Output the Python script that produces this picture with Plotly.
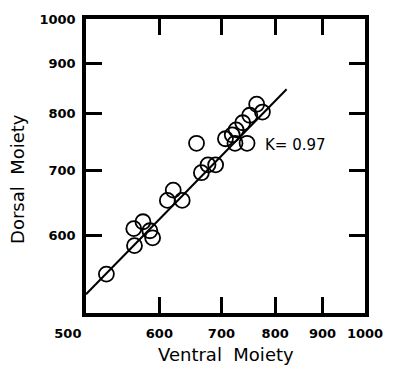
import numpy as np
import plotly.graph_objects as go

# Paired measurements (ventral vs dorsal moiety)
ventral = [526, 564, 563, 576, 586, 590, 612, 621, 635, 666, 677, 690, 658,
           707, 724, 726, 738, 746, 751, 764, 775, 719]
dorsal = [548, 586, 610, 620, 607, 597, 652, 668, 652, 696, 709, 709, 746,
          754, 746, 770, 783, 746, 797, 818, 803, 761]

# Fitted allometric line: dorsal = b * ventral ** K
K = 0.97
log_b = 0.1002
line_x = [500, 823]

tick_vals_x = [500, 600, 700, 800, 900, 1000]
tick_text_x = ["500" + "\u00a0" * 8, "600", "700", "800", "900", "1000"]
tick_vals_y = [600, 700, 800, 900, 1000]
tick_text_y = ["600", "700", "800", "900", "1000"]

line_y = [10 ** (log_b + K * np.log10(v)) for v in line_x]

fig = go.Figure()
fig.add_trace(go.Scatter(
    x=line_x, y=line_y, mode="lines",
    line=dict(color="black", width=2), hoverinfo="skip", showlegend=False))
fig.add_trace(go.Scatter(
    x=ventral, y=dorsal, mode="markers",
    marker=dict(symbol="circle-open", size=15, color="black",
                line=dict(color="black", width=1.8)),
    showlegend=False))

axis_common = dict(
    type="log", showgrid=False, zeroline=False,
    showline=True, linecolor="black", linewidth=3.5, mirror="ticks",
    ticks="inside", ticklen=16, tickwidth=3, tickcolor="black",
    tickfont=dict(family="DejaVu Sans", size=13, color="black", weight="bold"),
)

fig.update_xaxes(range=[np.log10(500), np.log10(1000)],
                 tickvals=tick_vals_x, ticktext=tick_text_x,
                 ticklabelstandoff=6, **axis_common)
fig.update_yaxes(range=[np.log10(500), np.log10(1000)],
                 tickvals=tick_vals_y, ticktext=tick_text_y,
                 ticklabelstandoff=4, **axis_common)

fig.update_layout(
    width=395, height=374,
    margin=dict(l=86, r=21, t=13, b=61),
    paper_bgcolor="white", plot_bgcolor="white",
)

# text positions in pixels, converted to paper fractions of the plot area
W, H = 395 - 86 - 21, 374 - 13 - 61
def px(xp, yp):
    return (xp - 86) / W, (374 - 61 - yp) / H

def label(text, xp, yp, size, angle=0):
    x, y = px(xp, yp)
    fig.add_annotation(text=text, x=x, y=y, xref="paper", yref="paper",
                       xanchor="center", yanchor="middle", textangle=angle,
                       showarrow=False,
                       font=dict(family="DejaVu Sans", size=size, color="#000000"))

label("K= 0.97", 302, 142, 15)
label("Ventral  Moiety", 230, 355, 18)
label("Dorsal  Moiety", 16, 176, 18, angle=-90)

fig.write_html("out.html")
